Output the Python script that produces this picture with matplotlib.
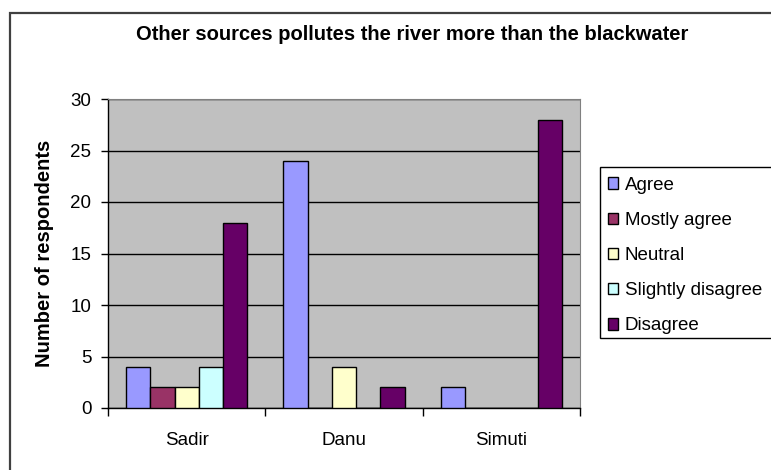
import matplotlib
matplotlib.use("Agg")
import matplotlib.pyplot as plt
from matplotlib.patches import Rectangle
import numpy as np

plt.rcParams["font.family"] = ["Liberation Sans", "DejaVu Sans"]

# ---- data ----
categories = ["Sadir", "Danu", "Simuti"]
series = ["Agree", "Mostly agree", "Neutral", "Slightly disagree", "Disagree"]
agree = [4, 24, 2]
mostly_agree = [2, 0, 0]
neutral = [2, 4, 0]
slightly_disagree = [4, 0, 0]
disagree = [18, 2, 28]
values = [agree, mostly_agree, neutral, slightly_disagree, disagree]
colors = ["#9999FF", "#993366", "#FFFFCC", "#CCFFFF", "#660066"]
yticks = [0, 5, 10, 15, 20, 25, 30]

W, H = 771, 470
fig = plt.figure(figsize=(W / 100, H / 100), dpi=100)


def fx(px):
    return px / W


def fy(py):
    return 1 - py / H


# outer chart border (cropped at right/bottom)
fig.patches.append(Rectangle((fx(10), fy(480)), fx(820) - fx(10), fy(13) - fy(480),
                             transform=fig.transFigure, fill=False,
                             edgecolor="#404040", lw=1.6, zorder=0))

left, right, top, bottom = 108, 580, 99, 408
ax = fig.add_axes([fx(left), fy(bottom), fx(right) - fx(left), fy(top) - fy(bottom)])
ax.set_facecolor("#C0C0C0")

n = len(series)
w = 1 / 6.5
x = np.arange(len(categories)) + 0.5
for i, (name, vals, c) in enumerate(zip(series, values, colors)):
    ax.bar(x + (i - (n - 1) / 2) * w, vals, w, color=c, edgecolor="black",
           lw=1, label=name, zorder=3)

ax.set_xlim(0, len(categories))
ax.set_ylim(0, 30)
ax.set_yticks(yticks)
ax.set_yticklabels([str(v) for v in yticks], fontsize=13.5)
ax.yaxis.grid(True, color="black", lw=1, zorder=0)
ax.set_axisbelow(True)
ax.tick_params(axis="y", direction="out", length=5, width=1, color="black", pad=7)

ax.set_xticks(np.arange(len(categories) + 1))
ax.set_xticklabels([])
ax.set_xticks(x, minor=True)
ax.set_xticklabels(categories, minor=True, fontsize=13.5)
ax.tick_params(axis="x", which="major", direction="out", length=6, width=1, color="black")
ax.tick_params(axis="x", which="minor", length=0, pad=17)

for s in ("top", "right"):
    ax.spines[s].set_color("#808080")
for s in ("left", "bottom"):
    ax.spines[s].set_color("black")
    ax.spines[s].set_linewidth(1)

ax.set_ylabel("Number of respondents", fontsize=14.5, weight="bold", labelpad=12)

fig.text(fx(412), fy(35), "Other sources pollutes the river more than the blackwater",
         ha="center", va="center", fontsize=14.5, weight="bold")

# legend frame (cropped at right edge)
fig.patches.append(Rectangle((fx(600), fy(338)), fx(790) - fx(600), fy(167) - fy(338),
                             transform=fig.transFigure, facecolor="white",
                             edgecolor="black", lw=1, zorder=1))
leg = fig.legend(loc="upper left", bbox_to_anchor=(fx(604), fy(173)), frameon=False,
                 fontsize=13.5, handlelength=0.55, handleheight=0.55, handletextpad=0.35,
                 labelspacing=0.97, borderaxespad=0, borderpad=0.2)

fig.savefig("out.png", dpi=100, facecolor="white")
